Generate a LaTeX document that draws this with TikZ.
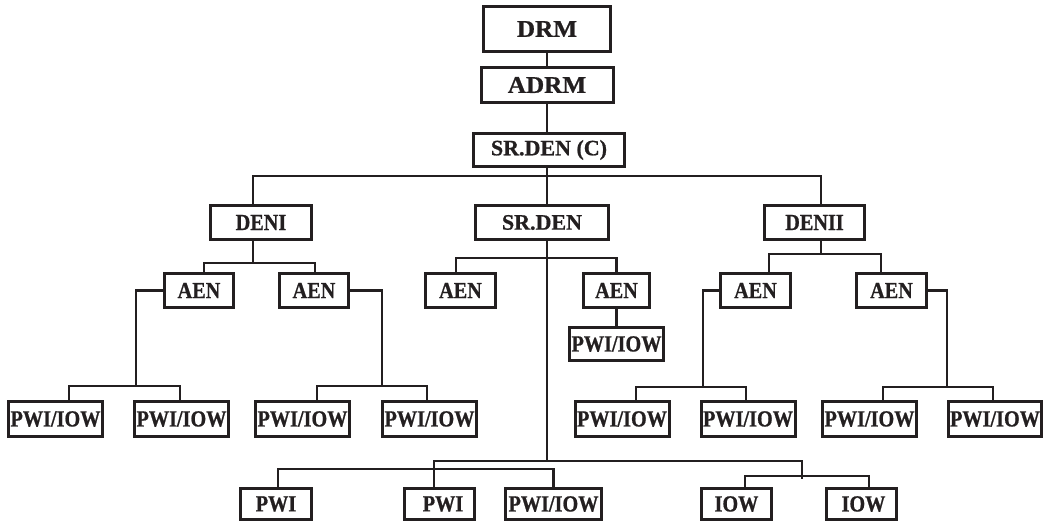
\documentclass[tikz,border=0pt]{standalone}
\usepackage{fontspec}
\setmainfont{Liberation Serif}[BoldFeatures={FakeBold=0.8}]
\definecolor{ink}{RGB}{35,31,32}
\newcommand{\wide}[1]{\scalebox{1.05}[1]{#1}}
\newcommand{\cnd}[1]{\scalebox{0.88}[1]{#1}}
\begin{document}
\begin{tikzpicture}[x=1pt,y=-1pt,
  bx/.style={draw=ink, text=ink, line width=3pt, inner sep=0pt,
    font=\bfseries\fontsize{23}{23}\selectfont},
  topbx/.style={bx, font=\bfseries\fontsize{24}{24}\selectfont},
  midbx/.style={bx, font=\bfseries\fontsize{22}{22}\selectfont},
  conn/.style={draw=ink, line width=2.6pt},
  aen/.style={bx, minimum height=34pt, minimum width=70pt},
  pw/.style={bx, minimum height=34.5pt, minimum width=94pt},
  low/.style={bx, minimum height=31pt, minimum width=70pt}]
\useasboundingbox[fill=white] (0,0) rectangle (1044,524);

% top chain
\node[topbx, minimum width=127pt, minimum height=45pt] (drm) at (547,29) {\wide{DRM}};
\node[topbx, minimum width=132pt, minimum height=35pt] (adrm) at (547,85) {\wide{ADRM}};
\node[midbx, minimum width=151pt, minimum height=33pt] (src) at (549,150) {SR.DEN (C)};

% second level
\node[bx, minimum width=101pt, minimum height=34pt] (deni) at (261,222.5) {\cnd{DENI}};
\node[midbx, minimum width=133pt, minimum height=34pt] (srden) at (542,222.5) {SR.DEN};
\node[bx, minimum width=100pt, minimum height=34pt] (denii) at (814.5,222.5) {\cnd{DENII}};

% AEN level
\node[aen, minimum width=69pt] (aen1) at (199,290.5) {\cnd{AEN}};
\node[aen, minimum width=69pt] (aen2) at (314,290.5) {\cnd{AEN}};
\node[aen] (aen3) at (460.5,290.5) {\cnd{AEN}};
\node[aen, minimum width=66pt] (aen4) at (616.5,290.5) {\cnd{AEN}};
\node[aen] (aen5) at (755.5,290.5) {\cnd{AEN}};
\node[aen] (aen6) at (891.5,290.5) {\cnd{AEN}};
\node[pw, minimum height=33pt] (pws) at (616.5,344) {\cnd{PWI/IOW}};

% PWI/IOW row
\node[pw] (b1) at (55.5,419) {\cnd{PWI/IOW}};
\node[pw] (b2) at (181.5,419) {\cnd{PWI/IOW}};
\node[pw] (b3) at (302.5,419) {\cnd{PWI/IOW}};
\node[pw] (b4) at (429.5,419) {\cnd{PWI/IOW}};
\node[pw] (b5) at (622,419) {\cnd{PWI/IOW}};
\node[pw] (b6) at (748,419) {\cnd{PWI/IOW}};
\node[pw] (b7) at (869.5,419) {\cnd{PWI/IOW}};
\node[pw, minimum width=93pt] (b8) at (995,419) {\cnd{PWI/IOW}};

% bottom row
\node[low, minimum width=71pt] (pwi1) at (276,504) {\cnd{PWI}};
\node[low] (pwi2) at (439.5,504) {\hspace*{7pt}\cnd{PWI}};
\node[low, minimum width=96pt] (pwio) at (553.5,504) {\cnd{PWI/IOW}};
\node[low] (iow1) at (736.5,504) {\cnd{IOW}};
\node[low] (iow2) at (861.5,504) {\hspace*{4pt}\cnd{IOW}};

% junctions
\coordinate (top) at (547,176);
\coordinate (jdeni) at (253,263);
\coordinate (jsr) at (547,258);
\coordinate (jd2) at (821,254);
\coordinate (j1) at (136,386);
\coordinate (j2) at (382,386);
\coordinate (j5) at (703,387);
\coordinate (j6) at (947,387);
\coordinate (jb) at (547,461);
\coordinate (jtick) at (802,479);
\coordinate (jiow) at (802,476);
\coordinate (jlow) at (553.5,469);

% connectors
\draw[conn] (drm) -- (adrm);
\draw[conn] (adrm.south) -- (adrm.south |- src.north);
\draw[conn] (adrm.south |- src.south) -- (top) -- (adrm.south |- srden.north);
\draw[conn] ([xshift=-8pt]deni.north) |- (top) -| ([xshift=6.5pt]denii.north);

\draw[conn] ([xshift=-8pt]deni.south) -- (jdeni);
\draw[conn] ([xshift=5pt]aen1.north) |- (jdeni) -| ([xshift=1pt]aen2.north);

\draw[conn] ([xshift=5pt]srden.south) -- (jsr) -- (jb);
\draw[conn] ([xshift=-4.5pt]aen3.north) |- (jsr) -| (aen4.north);
\draw[conn] (aen4) -- (pws);

\draw[conn] ([xshift=6.5pt]denii.south) -- (jd2);
\draw[conn] ([xshift=13.5pt]aen5.north) |- (jd2) -| ([xshift=-10.5pt]aen6.north);

\draw[conn] (aen1.west) -| (j1);
\draw[conn] ([xshift=13.5pt]b1.north) |- (j1) -| ([xshift=-1.5pt]b2.north);
\draw[conn] (aen2.east) -| (j2);
\draw[conn] ([xshift=14.5pt]b3.north) |- (j2) -| ([xshift=-2.5pt]b4.north);
\draw[conn] (aen5.west) -| (j5);
\draw[conn] ([xshift=14pt]b5.north) |- (j5) -| ([xshift=-2pt]b6.north);
\draw[conn] (aen6.east) -| (j6);
\draw[conn] ([xshift=13.5pt]b7.north) |- (j6) -| ([xshift=-2pt]b8.north);

\draw[conn] ([xshift=-5.5pt]pwi2.north) |- (jb) -| (jtick);
\draw[conn] ([xshift=8.5pt]iow1.north) |- (jiow) -| ([xshift=7.5pt]iow2.north);
\draw[conn] ([xshift=2pt]pwi1.north) |- (jlow) -- (pwio.north);
\end{tikzpicture}
\end{document}
